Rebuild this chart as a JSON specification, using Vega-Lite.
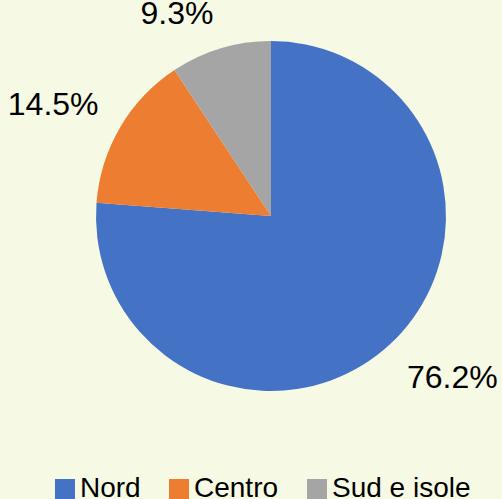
{
  "$schema": "https://vega.github.io/schema/vega-lite/v6.json",
  "width": 462,
  "height": 432,
  "autosize": {"type": "none"},
  "padding": {"left": 40, "top": 0, "right": 0, "bottom": 67},
  "background": "#F6F9E4",
  "config": {"view": {"stroke": null}, "font": "Liberation Sans"},
  "data": {
    "values": [
      {"region": "Nord", "share": 0.762},
      {"region": "Centro", "share": 0.145},
      {"region": "Sud e isole", "share": 0.093}
    ]
  },
  "encoding": {
    "theta": {"field": "share", "type": "quantitative", "stack": true},
    "order": {"field": "share", "type": "quantitative", "sort": "descending"},
    "color": {
      "field": "region",
      "type": "nominal",
      "sort": ["Nord", "Centro", "Sud e isole"],
      "scale": {"domain": ["Nord", "Centro", "Sud e isole"], "range": ["#4472C4", "#ED7D31", "#A5A5A5"]},
      "legend": {
        "title": null,
        "orient": "none",
        "direction": "horizontal",
        "legendX": 11,
        "legendY": 475,
        "padding": 0,
        "symbolType": "square",
        "symbolSize": 400,
        "symbolStrokeWidth": 0,
        "symbolOpacity": 1,
        "labelFontSize": 28,
        "labelColor": "#000000",
        "labelOffset": 1,
        "columnPadding": 24,
        "labelLimit": 300
      }
    }
  },
  "layer": [
    {"mark": {"type": "arc", "outerRadius": 175}},
    {
      "mark": {"type": "text", "radius": 200, "align": "left", "baseline": "top", "fontSize": 32, "color": "#000000"},
      "encoding": {
        "color": {"value": "#000000"},
        "text": {"condition": {"test": "datum.region === 'Nord'", "field": "share", "format": ".1%"}, "value": ""}
      }
    },
    {
      "mark": {"type": "text", "radius": 200, "align": "right", "baseline": "alphabetic", "fontSize": 32, "color": "#000000"},
      "encoding": {
        "color": {"value": "#000000"},
        "text": {"condition": {"test": "datum.region !== 'Nord'", "field": "share", "format": ".1%"}, "value": ""}
      }
    }
  ]
}
